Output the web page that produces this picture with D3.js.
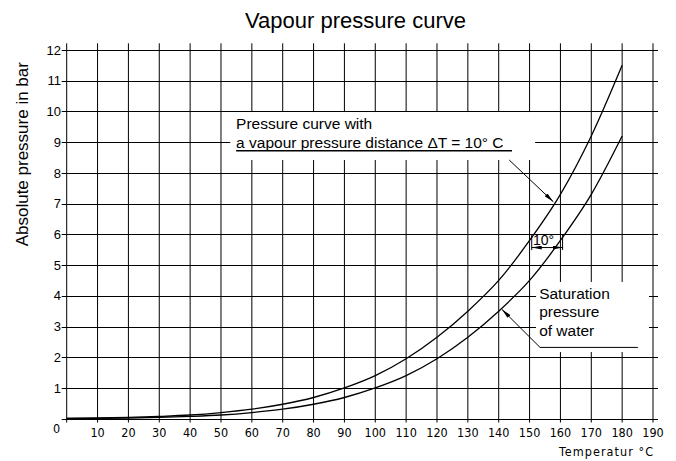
<!DOCTYPE html>
<html><head><meta charset="utf-8">
<script src="https://cdn.jsdelivr.net/npm/d3@7"></script>
<style>body{margin:0;background:#fff}svg{display:block}</style>
</head><body>
<svg id="c" width="676" height="461"></svg>
<script>
// ---- data ----
const temps = [0,10,20,30,40,50,60,70,80,90,100,110,120,130,140,150,160,170,180];
const saturationPressure = [0.006,0.012,0.023,0.042,0.074,0.12,0.2,0.31,0.47,0.69,1.0,1.4,1.95,2.65,3.5,4.5,5.8,7.3,9.2];
const distancePressure   = [0.012,0.023,0.042,0.074,0.12,0.2,0.31,0.47,0.69,1.0,1.4,1.95,2.65,3.5,4.5,5.8,7.3,9.2,11.5];
const xTickValues = [10,20,30,40,50,60,70,80,90,100,110,120,130,140,150,160,170,180,190];
const yTickValues = [1,2,3,4,5,6,7,8,9,10,11,12];
const titleText = "Vapour pressure curve";
const yLabelText = "Absolute pressure in bar";
const xLabelText = "Temperatur \u00B0C";
const note1Lines = ["Pressure curve with", "a vapour pressure distance \u0394T = 10\u00B0 C"];
const note2Lines = ["Saturation", "pressure", "of water"];
const dimText = "10\u00B0";

// ---- layout ----
const sans = "'Liberation Sans', Arial, sans-serif";
const tech = "'DejaVu Sans Condensed','DejaVu Sans',sans-serif";
const svg = d3.select("#c");
const x = d3.scaleLinear().domain([0,190]).range([66.7,653]);
const y = d3.scaleLinear().domain([0,12]).range([418.7,50]);
const crisp = v => Math.round(v) + 0.5;

const defs = svg.append("defs");
defs.append("marker").attr("id","arr").attr("viewBox","0 0 10 4")
  .attr("refX",10).attr("refY",2).attr("markerWidth",10).attr("markerHeight",4)
  .attr("markerUnits","userSpaceOnUse").attr("orient","auto-start-reverse")
  .append("path").attr("d","M0,0 L10,2 L0,4 Z").attr("fill","#000");

// title
svg.append("text").attr("x",355.5).attr("y",28).attr("text-anchor","middle")
  .attr("font-family",sans).attr("font-size",22).text(titleText);

// y label
svg.append("text").attr("transform",`translate(28.3,${154.2}) rotate(-90)`)
  .attr("text-anchor","middle").attr("font-family",sans).attr("font-size",17).text(yLabelText);

const grid = svg.append("g").attr("stroke","#000").attr("stroke-width",1);
// horizontal grid lines
grid.selectAll("line.h").data([0].concat(yTickValues)).join("line").attr("class","h")
  .attr("x1",x(0)-5).attr("x2",x(190)+5)
  .attr("y1",d=>crisp(y(d))).attr("y2",d=>crisp(y(d)));
// vertical grid lines
grid.selectAll("line.v").data([0].concat(xTickValues)).join("line").attr("class","v")
  .attr("x1",d=>x(d)).attr("x2",d=>x(d))
  .attr("y1",43.3).attr("y2",422.5);

// y tick labels
svg.append("g").selectAll("text").data(yTickValues).join("text")
  .attr("x",61).attr("y",d=>y(d)).attr("dy","0.36em").attr("text-anchor","end")
  .attr("font-family",sans).attr("font-size",13).text(d=>d);
// origin label
svg.append("text").attr("x",x(0)-10).attr("y",y(0)+14).attr("text-anchor","middle")
  .attr("font-family",tech).attr("font-size",12.5).text("0");
// x tick labels
svg.append("g").selectAll("text").data(xTickValues).join("text")
  .attr("x",d=>x(d)).attr("y",y(0)+18).attr("text-anchor","middle")
  .attr("font-family",tech).attr("font-size",12.5).text(d=>d);
svg.append("text").attr("x",653).attr("y",456).attr("text-anchor","end")
  .attr("font-family",tech).attr("font-size",12.5).attr("textLength",94)
  .attr("lengthAdjust","spacing").attr("xml:space","preserve").text(xLabelText);

// annotation boxes (white, covering the grid)
const boxes = [
  {t0:53, t1:151.8, p0:9.98, p1:8.42},
  {t0:152.1, t1:188.7, p0:4.45, p1:2.17}
];
svg.append("g").selectAll("rect").data(boxes).join("rect")
  .attr("x",d=>x(d.t0)).attr("width",d=>x(d.t1)-x(d.t0))
  .attr("y",d=>y(d.p0)).attr("height",d=>y(d.p1)-y(d.p0)).attr("fill","#fff");

// curves
const line = d3.line().x(d=>x(d[0])).y(d=>y(d[1])).curve(d3.curveMonotoneX);
svg.append("path").datum(temps.map((t,i)=>[t,saturationPressure[i]]))
  .attr("d",line).attr("fill","none").attr("stroke","#000").attr("stroke-width",1.3);
svg.append("path").datum(temps.map((t,i)=>[t,distancePressure[i]]))
  .attr("d",line).attr("fill","none").attr("stroke","#000").attr("stroke-width",1.3);

// note 1
const n1 = svg.append("g").attr("font-family",sans).attr("font-size",15.5);
n1.append("text").attr("x",x(54.9)).attr("y",y(9.42)).text(note1Lines[0]);
n1.append("text").attr("x",x(54.9)).attr("y",y(8.80)).text(note1Lines[1]);
svg.append("line").attr("x1",x(54.9)).attr("x2",x(144.3)).attr("y1",y(8.72)).attr("y2",y(8.72))
  .attr("stroke","#000").attr("stroke-width",1.4);
svg.append("line").attr("x1",x(143.4)).attr("y1",y(8.42)).attr("x2",x(157.7)).attr("y2",y(7.06))
  .attr("stroke","#000").attr("stroke-width",1).attr("marker-end","url(#arr)");

// note 2
const n2 = svg.append("g").attr("font-family",sans).attr("font-size",15.5);
[3.90,3.30,2.70].forEach((p,i)=>n2.append("text").attr("x",x(153.1)).attr("y",y(p)).text(note2Lines[i]));
svg.append("line").attr("x1",x(153.4)).attr("x2",x(185.1)).attr("y1",y(2.32)).attr("y2",y(2.32))
  .attr("stroke","#000").attr("stroke-width",1);
svg.append("line").attr("x1",x(153.4)).attr("y1",y(2.32)).attr("x2",x(141)).attr("y2",y(3.56))
  .attr("stroke","#000").attr("stroke-width",1).attr("marker-end","url(#arr)");

// 10 degree dimension
const dim = svg.append("g").attr("stroke","#000").attr("stroke-width",1);
[150.7,160.7].forEach(t=>dim.append("line").attr("x1",x(t)).attr("x2",x(t)).attr("y1",y(5.98)).attr("y2",y(5.49)));
dim.append("line").attr("x1",x(150.7)).attr("x2",x(160.7)).attr("y1",y(5.57)).attr("y2",y(5.57))
  .attr("marker-start","url(#arr)").attr("marker-end","url(#arr)");
svg.append("text").attr("x",x(151.1)).attr("y",y(5.65)).attr("font-family",sans).attr("font-size",14).text(dimText);
</script>
</body></html>
